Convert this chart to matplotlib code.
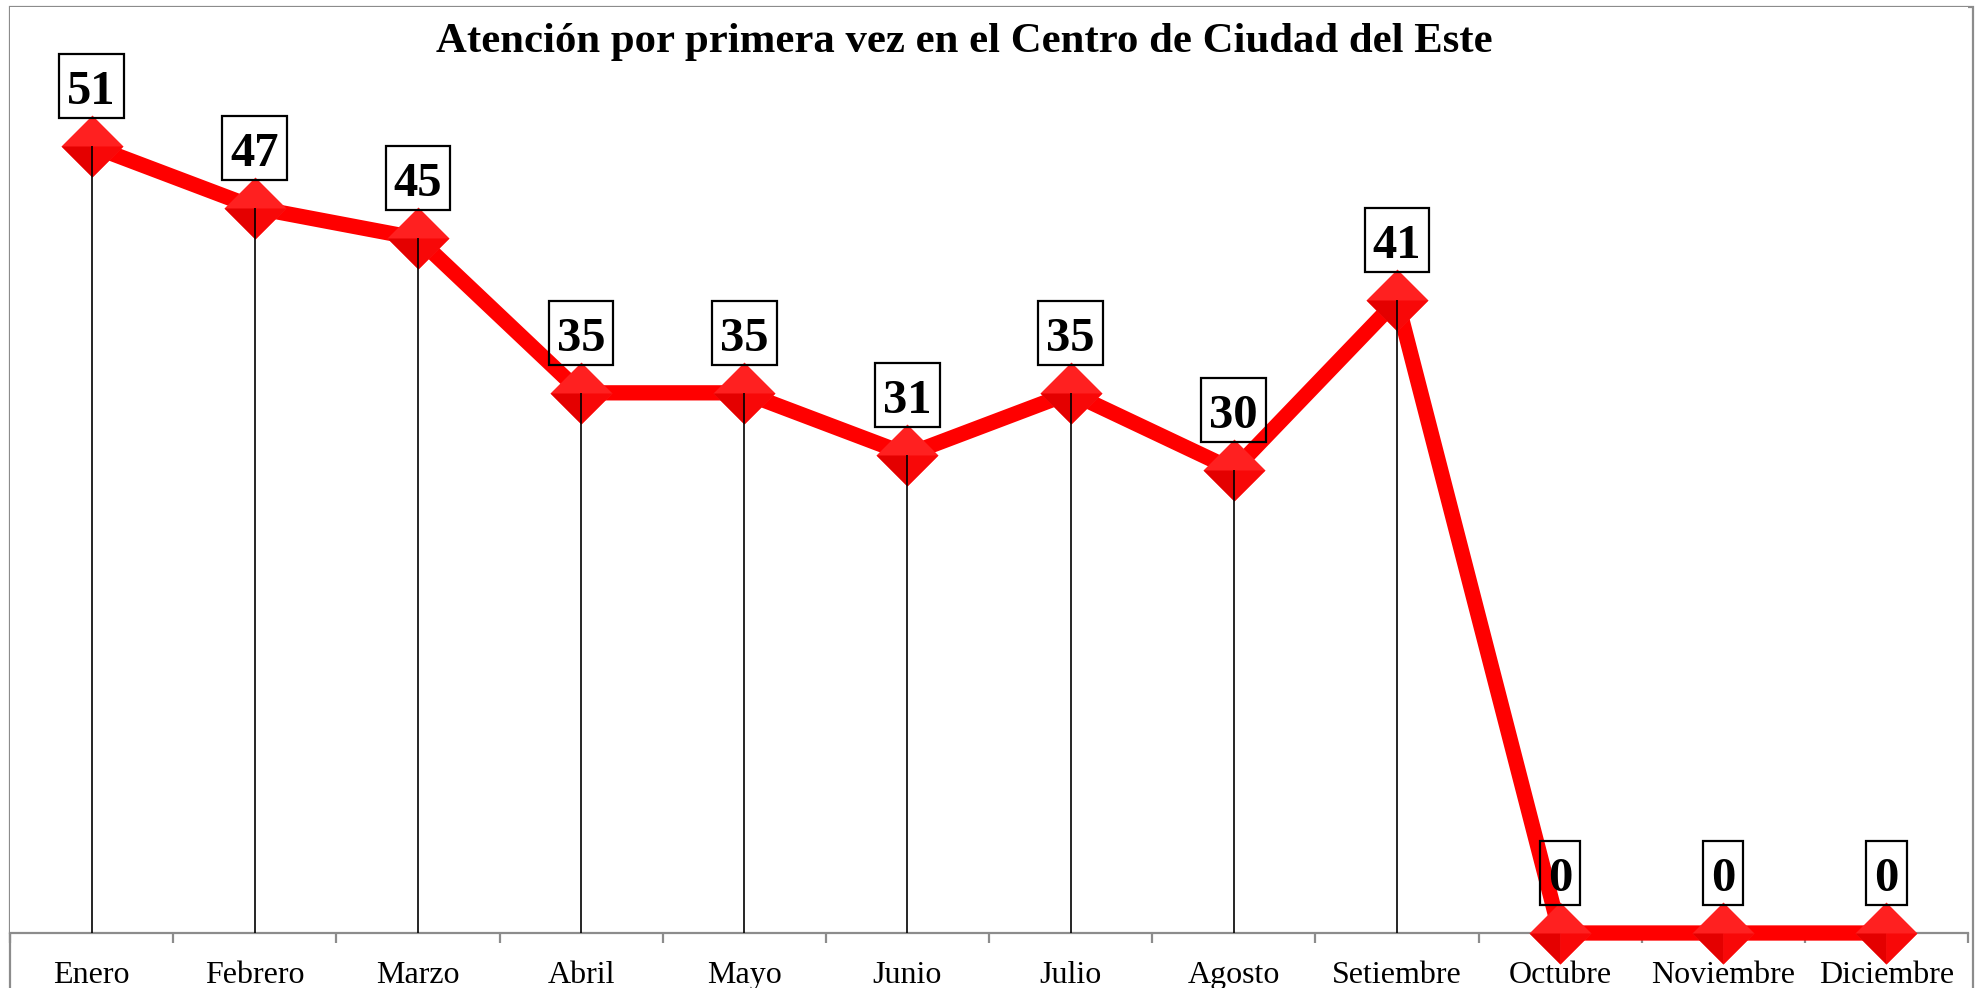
import matplotlib
matplotlib.use('Agg')
import matplotlib.pyplot as plt
import matplotlib.transforms as mtransforms
from matplotlib.patches import Rectangle
from matplotlib.path import Path

meses = ['Enero', 'Febrero', 'Marzo', 'Abril', 'Mayo', 'Junio', 'Julio',
         'Agosto', 'Setiembre', 'Octubre', 'Noviembre', 'Diciembre']
valores = [51, 47, 45, 35, 35, 31, 35, 30, 41, 0, 0, 0]
titulo = 'Atención por primera vez en el Centro de Ciudad del Este'

W, H, DPI = 1975, 988, 100
SERIF = ['Liberation Serif', 'DejaVu Serif']
GRAY = '#8C8C8C'

fig = plt.figure(figsize=(W / DPI, H / DPI), dpi=DPI)
ax = fig.add_axes([10 / W, 55 / H, 1958 / W, 926 / H])
ax.set_xlim(-0.5, len(meses) - 0.5)
ax.set_ylim(0, 60)

x = list(range(len(meses)))

# outer chart frame
fig.add_artist(Rectangle((10 / W, -0.05), 1963 / W, 1.05 - 7 / H,
                         transform=fig.transFigure, fill=False,
                         edgecolor=GRAY, lw=1.6, zorder=0))

# line
ax.plot(x, valores, color='#FF0000', lw=11, zorder=2, clip_on=False,
        solid_joinstyle='round', solid_capstyle='butt')

# diamond markers with shading
diamond = Path([(0, 1), (1, 0), (0, -1), (-1, 0), (0, 1)], closed=True)
q_ll = Path([(0, 0), (-1, 0), (0, -1), (0, 0)], closed=True)
q_lr = Path([(0, 0), (1, 0), (0, -1), (0, 0)], closed=True)
ms = 44.6
ax.plot(x, valores, ls='none', marker=diamond, ms=ms, mfc='#FF2020',
        mec='none', mew=0, zorder=3, clip_on=False)
ax.plot(x, valores, ls='none', marker=q_ll, ms=ms, mfc='#E40000',
        mec='none', mew=0, zorder=3.1, clip_on=False)
ax.plot(x, valores, ls='none', marker=q_lr, ms=ms, mfc='#F80808',
        mec='none', mew=0, zorder=3.1, clip_on=False)

# drop lines
ax.vlines(x, 0, valores, color='black', lw=1.2, zorder=4)

# data labels
texts = []
for xi, v in zip(x, valores):
    t = ax.annotate(str(v), (xi, v), xytext=(0, 42 * 72 / DPI),
                    textcoords='offset points', ha='center', va='baseline',
                    fontsize=35, fontweight='bold', family=SERIF,
                    color='black', zorder=6, annotation_clip=False)
    texts.append(t)

# axes styling
for s in ['top', 'right', 'left']:
    ax.spines[s].set_visible(False)
ax.spines['bottom'].set_color(GRAY)
ax.spines['bottom'].set_linewidth(1.6)
ax.spines['bottom'].set_zorder(1)
ax.set_yticks([])
ax.set_xticks(x)
ax.set_xticklabels(meses, family=SERIF, fontsize=23)
ax.set_xticks([i - 0.5 for i in range(len(meses) + 1)], minor=True)
ax.tick_params(axis='x', which='major', length=0, pad=20)
ax.tick_params(axis='x', which='minor', length=7.5, width=1.6, color=GRAY)

# title
fig.text(964 / W, 1 - 52 / H, titulo, ha='center', va='baseline',
         fontsize=30.8, fontweight='bold', family=SERIF)

# boxes around labels
fig.canvas.draw()
renderer = fig.canvas.get_renderer()
for t, xi, v in zip(texts, x, valores):
    wpx = t.get_window_extent(renderer).width
    bw = wpx + 16
    trans = mtransforms.Affine2D() + mtransforms.ScaledTranslation(xi, v, ax.transData)
    r = Rectangle((-bw / 2, 28), bw, 64, transform=trans, fill=False,
                  edgecolor='black', lw=1.6, zorder=5, clip_on=False)
    ax.add_artist(r)

fig.savefig('out.png', dpi=DPI, facecolor='white')
